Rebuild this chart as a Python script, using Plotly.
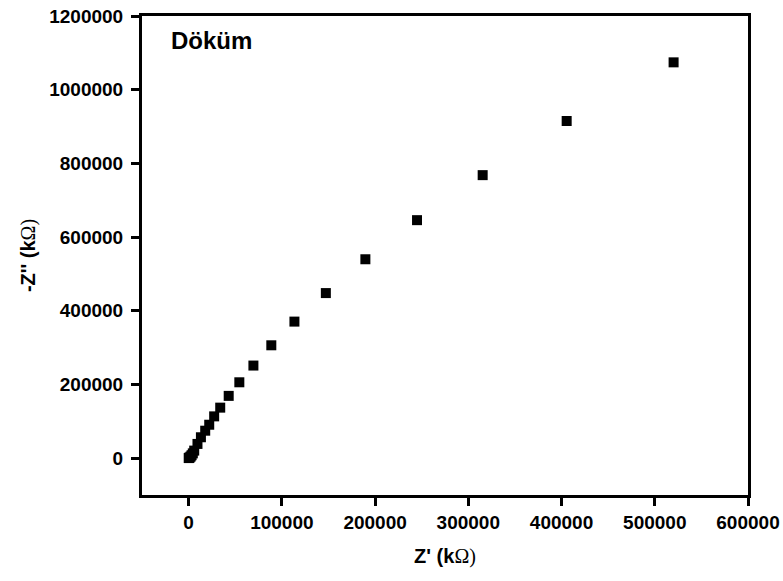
import plotly.graph_objects as go

# Nyquist data for the cast ("Döküm") sample, in kΩ
z_real = [520200, 405500, 315400, 245000, 189600, 147200, 113500, 88700,
          69500, 54400, 43000, 33900, 27400, 22100, 17800, 13200, 9500,
          6000, 4500, 3200, 2200, 1200, 500, 100]
z_imag = [1074200, 915000, 768100, 645900, 539800, 448000, 370600, 306300,
          251300, 205900, 169000, 137100, 113400, 90700, 74500, 56700, 38600,
          20500, 13000, 8000, 4500, 2000, 800, 200]

x_ticks = [0, 100000, 200000, 300000, 400000, 500000, 600000]
y_ticks = [0, 200000, 400000, 600000, 800000, 1000000, 1200000]

sans = "Arial, 'Liberation Sans', sans-serif"
serif = "'Times New Roman', 'Liberation Serif', serif"

fig = go.Figure()
fig.add_trace(go.Scatter(
    x=z_real, y=z_imag, mode="markers",
    marker=dict(symbol="square", size=10, color="black", line=dict(width=0)),
    showlegend=False,
))

axis_common = dict(
    showline=True, linecolor="black", linewidth=3, mirror=True,
    ticks="outside", ticklen=8, tickwidth=2.5, tickcolor="black",
    showgrid=False, zeroline=False, automargin=False,
    tickfont=dict(family=sans, size=19, color="black"),
)

fig.update_xaxes(
    range=[-50000, 600000], tickvals=x_ticks,
    ticktext=[f"<b>{v}</b>" for v in x_ticks],
    title=dict(
        text=f"<b>Z' (k</b><span style=\"font-family:{serif}\">Ω)</span>",
        font=dict(family=sans, size=20, color="black"), standoff=18,
    ),
    **axis_common,
)
fig.update_yaxes(
    range=[-100000, 1200000], tickvals=y_ticks,
    ticktext=[f"<b>{v}</b>" for v in y_ticks],
    ticklabelstandoff=4,
    title=dict(
        text=f"<b>-Z'' (k</b><span style=\"font-family:{serif}\">Ω)</span>",
        font=dict(family=sans, size=20, color="black"), standoff=9,
    ),
    **axis_common,
)

fig.add_annotation(
    text="<b>Döküm</b>", xref="paper", yref="paper", x=0.045, y=0.948,
    xanchor="left", yanchor="middle", showarrow=False,
    font=dict(family=sans, size=24, color="black"),
)

fig.update_layout(
    width=783, height=581,
    margin=dict(l=142, r=35, t=16, b=86),
    plot_bgcolor="white", paper_bgcolor="white",
)

fig.write_html("out.html")
